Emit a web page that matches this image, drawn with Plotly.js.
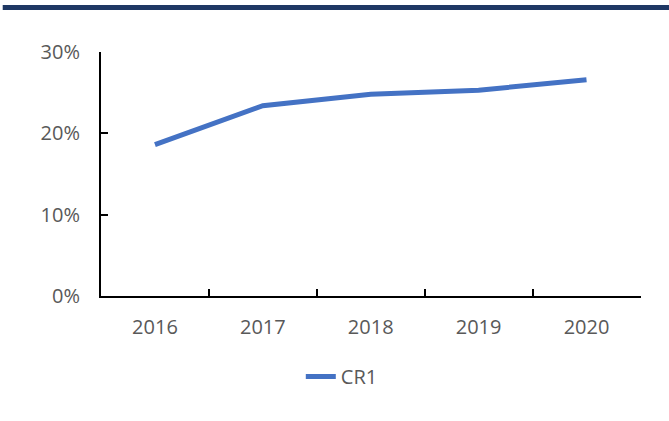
<!DOCTYPE html>
<html>
<head>
<meta charset="utf-8">
<script src="https://cdn.plot.ly/plotly-3.0.1.min.js"></script>
<style>
  html, body { margin: 0; padding: 0; background: #fff; }
  #chart { width: 669px; height: 421px; }
</style>
</head>
<body>
<div id="chart"></div>
<script>
var years = ["2016", "2017", "2018", "2019", "2020"];
var cr1 = [18.6, 23.4, 24.8, 25.3, 26.6];
var yTicks = [0, 10, 20, 30];
var yTickLabels = ["0%", "10%", "20%", "30%"];

var trace = {
    type: "scatter",
    mode: "lines",
    x: years,
    y: cr1,
    name: "CR1",
    line: { color: "#4472c4", width: 5 },
    hoverinfo: "skip"
};

var layout = {
    width: 669,
    height: 421,
    margin: { l: 101, r: 28, t: 52, b: 125 },
    paper_bgcolor: "#fff",
    plot_bgcolor: "#fff",
    font: { family: "Open Sans, DejaVu Sans, sans-serif", size: 20, color: "#595959" },
    showlegend: true,
    legend: {
        orientation: "h",
        x: 0.37,
        xanchor: "left",
        y: -0.33,
        yanchor: "middle",
        font: { size: 20, color: "#595959" }
    },
    xaxis: {
        type: "category",
        range: [-0.5, 4.505],
        showline: true,
        linecolor: "#000",
        linewidth: 2,
        ticks: "inside",
        tickson: "boundaries",
        ticklen: 7,
        tickwidth: 2,
        tickcolor: "#000",
        ticklabelstandoff: 12,
        showgrid: false,
        zeroline: false,
        fixedrange: true
    },
    yaxis: {
        range: [0, 30],
        tickvals: yTicks,
        ticktext: yTickLabels,
        showline: true,
        linecolor: "#000",
        linewidth: 2,
        ticks: "inside",
        ticklen: 7,
        tickwidth: 2,
        tickcolor: "#000",
        ticklabelstandoff: 15,
        showgrid: false,
        zeroline: false,
        fixedrange: true
    },
    shapes: [{
        type: "rect",
        xref: "paper",
        yref: "paper",
        x0: -0.182,
        x1: 1.06,
        y0: 1.172,
        y1 : 1.193,
        fillcolor: "#1f3864",
        line: { width: 0 }
    }]
};

Plotly.newPlot("chart", [trace], layout, { displayModeBar: false, staticPlot: true });
</script>
</body>
</html>
